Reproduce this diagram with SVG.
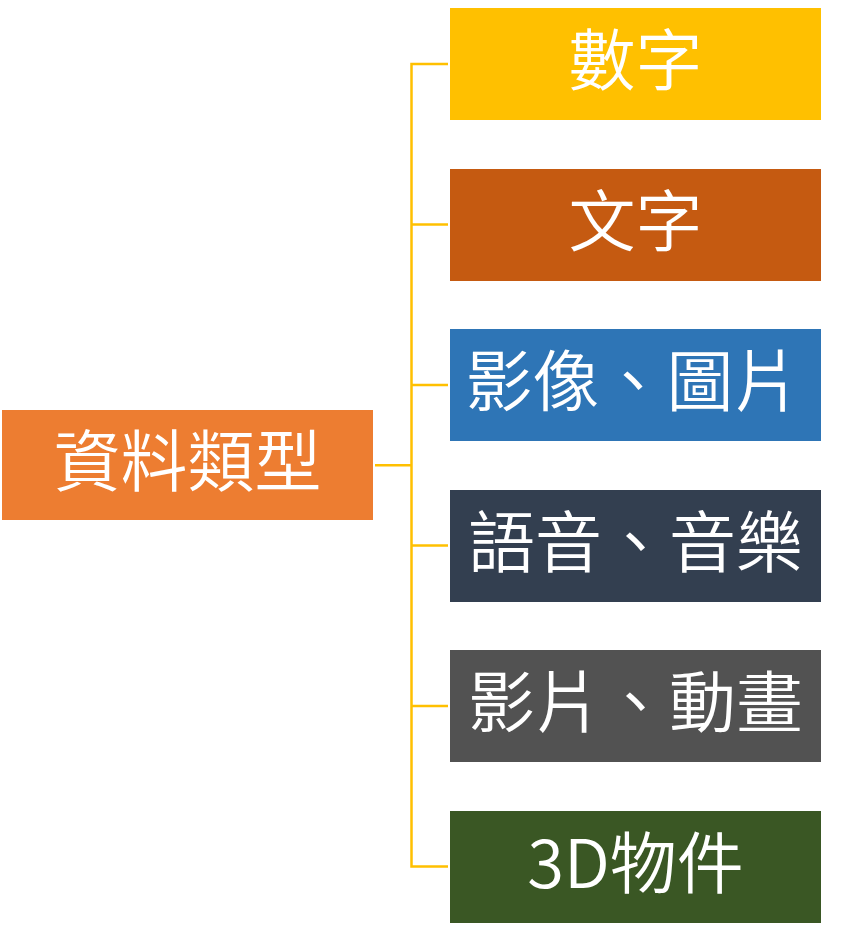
<svg xmlns="http://www.w3.org/2000/svg" width="843" height="943" viewBox="0 0 843 943">
  <style>
    .box { stroke: none; }
    .label { font-family: "Noto Sans CJK TC", "Noto Sans", "Liberation Sans", sans-serif; font-size: 67px; font-weight: 350; fill: #ffffff; text-anchor: middle; dominant-baseline: central; }
    .link { fill: none; stroke: #FFC000; stroke-width: 2.5; }
  </style>
  <rect width="843" height="943" fill="#ffffff"/>

  <!-- tree connectors -->
  <g id="connectors">
    <path class="link" d="M375 465.2 H411.5"/>
    <path class="link" d="M448 64 H411.5 V866.5 H448"/>
    <path class="link" d="M411.5 224.6 H448"/>
    <path class="link" d="M411.5 385 H448"/>
    <path class="link" d="M411.5 545.6 H448"/>
    <path class="link" d="M411.5 706 H448"/>
  </g>

  <g id="root">
    <rect class="box" x="2" y="410" width="371" height="110" fill="#ED7D31"/>
    <text class="label" x="187.5" y="456">資料類型</text>
  </g>

  <g id="numbers">
    <rect class="box" x="450" y="8" width="371" height="112" fill="#FFC000"/>
    <text class="label" x="635.5" y="55">數字</text>
  </g>

  <g id="text">
    <rect class="box" x="450" y="169" width="371" height="112" fill="#C55A11"/>
    <text class="label" x="635.5" y="216">文字</text>
  </g>

  <g id="images">
    <rect class="box" x="450" y="329" width="371" height="112" fill="#2E75B6"/>
    <text class="label" x="633" y="376">影像、圖片</text>
  </g>

  <g id="audio">
    <rect class="box" x="450" y="490" width="371" height="112" fill="#333F50"/>
    <text class="label" x="635.5" y="537">語音、音樂</text>
  </g>

  <g id="video">
    <rect class="box" x="450" y="650" width="371" height="112" fill="#525252"/>
    <text class="label" x="635.5" y="697">影片、動畫</text>
  </g>

  <g id="objects3d">
    <rect class="box" x="450" y="811" width="371" height="112" fill="#3A5724"/>
    <text class="label" x="635.5" y="858">3D物件</text>
  </g>
</svg>
